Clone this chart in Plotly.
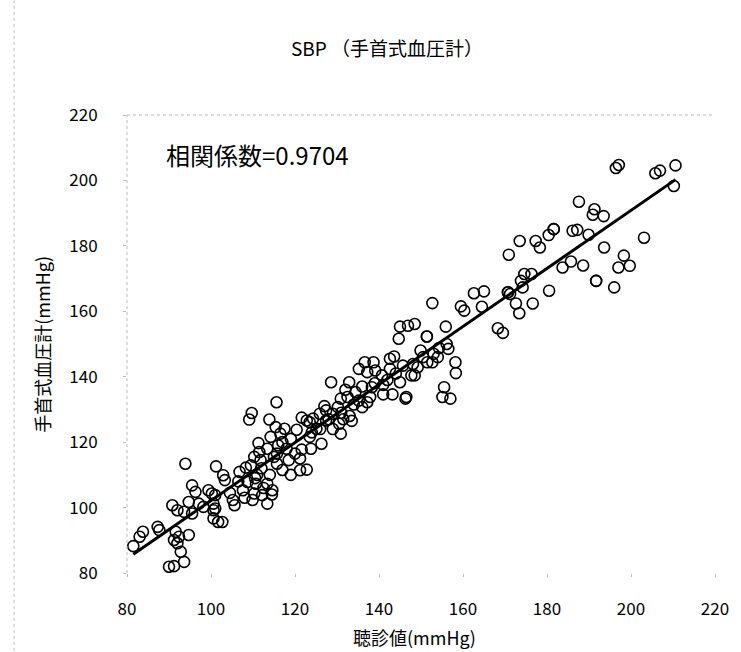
import numpy as np
import plotly.graph_objects as go

# Auscultation SBP (x) vs wrist monitor SBP (y), mmHg
ausc = [81.5, 83.0, 83.8, 87.3, 87.7, 90.0, 91.2, 90.8, 92.0, 93.6, 94.7, 95.5, 91.6, 92.4, 94.7, 91.2, 92.0, 92.8, 93.6,
        93.9, 95.5, 96.3, 97.1, 98.2, 99.4, 100.2, 100.6, 100.6, 101.7, 102.7, 101.2, 101.0, 100.6, 101.0, 102.9, 103.3,
        104.5, 105.2, 105.6,
        106.8, 107.6, 108.3, 108.7, 109.5, 109.9, 110.3, 110.3, 110.7, 111.3, 111.5, 111.8, 112.2, 113.4, 113.4, 113.4,
        114.6, 109.7, 109.1, 113.9, 115.6, 115.4, 117.5, 116.5, 120.4, 114.2, 115.7, 115.7, 118.5, 120.0, 121.6, 123.8,
        121.2, 121.2, 122.8, 121.6, 123.5, 124.3, 122.8, 125.1, 123.5, 126.3, 125.9, 127.4, 127.4, 129.0, 130.2, 130.5,
        130.9, 128.6, 132.9,
        111.0, 112.0, 114.0, 112.5, 116.0, 117.0, 118.0, 119.0, 124.0, 126.0, 127.0, 128.0, 129.0, 119.0, 114.5, 110.5,
        108.0, 106.5, 117.0, 115.0,
        130.9, 132.5, 134.4, 135.2, 137.2, 136.0, 137.9, 138.3, 141.0, 143.2, 146.3, 135.2, 136.6, 138.7, 137.2, 139.1,
        140.7, 142.6, 143.6, 142.6, 145.7, 148.1, 145.0, 147.7, 144.7, 145.0, 146.9, 148.5, 149.2, 148.5, 146.5, 149.9,
        133.0, 134.0, 139.0, 141.0, 142.0, 144.0, 132.0, 136.0, 131.0, 133.5, 131.5,
        151.4, 151.4, 152.7, 151.5, 152.7, 155.9, 156.1, 156.5, 154.3, 158.2, 158.3, 155.5, 155.1, 157.0, 159.5, 160.3,
        162.6, 165.0, 164.5, 168.3, 169.5, 150.5, 153.0, 154.0,
        170.7, 170.7, 170.9, 171.2, 172.6, 173.4, 173.5, 173.8, 174.2, 174.6, 176.3, 176.6, 177.3, 178.3, 180.4, 181.6,
        181.6, 180.5, 183.7, 185.7, 186.1, 187.2, 187.6, 188.6, 189.9, 191.3, 190.9, 191.7, 191.7, 193.5, 193.6, 196.0,
        196.4, 197.1, 197.0, 198.3, 199.7, 203.1, 205.8, 206.9, 210.6, 210.2]

wrist = [88.2, 91.1, 92.6, 94.1, 93.1, 81.9, 82.1, 100.7, 99.2, 98.7, 101.7, 98.2, 92.6, 91.1, 91.6, 90.1, 89.1, 86.5, 83.4,
         113.4, 106.8, 104.8, 101.2, 100.2, 105.3, 104.3, 99.2, 96.7, 95.6, 95.6, 112.6, 103.8, 101.2, 99.7, 109.9, 108.4,
         104.5, 102.3, 100.7,
         110.9, 105.3, 112.2, 107.8, 112.9, 102.3, 115.5, 104.3, 107.3, 119.7, 117.0, 114.5, 103.8, 118.0, 107.3, 101.2,
         105.3, 128.9, 126.9, 126.9, 132.2, 124.6, 124.1, 122.6, 123.8, 121.6, 116.5, 113.4, 114.5, 116.5, 117.7, 118.0,
         115.0, 111.4, 111.6, 127.5, 126.1, 127.2, 126.6, 124.1, 121.6, 119.5, 128.7, 129.7, 126.6, 128.7, 130.7, 125.6,
         122.6, 138.3, 138.3,
         110.0, 112.0, 110.0, 106.0, 119.0, 120.0, 118.0, 121.0, 123.0, 124.0, 131.0, 127.0, 124.0, 110.0, 104.0, 109.0,
         103.0, 108.0, 111.5, 115.5,
         133.3, 133.8, 135.3, 132.7, 132.2, 130.7, 133.8, 136.8, 134.6, 134.6, 133.3, 142.4, 144.4, 144.4, 141.4, 141.9,
         140.4, 145.5, 146.2, 142.4, 143.4, 143.9, 138.3, 140.4, 151.6, 155.3, 155.6, 156.1, 142.9, 140.4, 133.8, 148.0,
         128.0, 131.5, 138.0, 137.5, 139.0, 141.0, 136.0, 137.0, 129.0, 126.5, 127.0,
         152.3, 152.3, 144.4, 144.4, 162.5, 155.3, 150.0, 148.5, 148.8, 144.4, 141.1, 136.8, 133.8, 133.3, 161.5, 160.2,
         165.5, 166.1, 161.4, 154.8, 153.4, 146.0, 147.0, 146.0,
         165.8, 165.8, 177.3, 165.3, 162.4, 159.4, 181.5, 169.3, 167.3, 171.4, 171.4, 162.4, 181.5, 179.5, 183.3, 185.1,
         185.1, 166.3, 173.4, 175.2, 184.6, 184.9, 193.5, 174.0, 183.4, 191.2, 189.5, 169.3, 169.3, 189.1, 179.5, 167.3,
         203.8, 204.7, 173.4, 177.0, 173.9, 182.5, 202.2, 203.0, 204.6, 198.3]

x_ticks = [80, 100, 120, 140, 160, 180, 200, 220]
y_ticks = [80, 100, 120, 140, 160, 180, 200, 220]
title_text = "SBP （手首式血圧計）"
x_title = "聴診値(mmHg)"
y_title = "手首式血圧計(mmHg)"
corr_text = "相関係数=0.9704"

xa = np.array(ausc)
ya = np.array(wrist)
slope, intercept = np.polyfit(xa, ya, 1)
line_x = np.array([xa.min(), xa.max()])
line_y = slope * line_x + intercept

FONT = "Noto Sans CJK JP"

fig = go.Figure()
fig.add_trace(go.Scatter(
    x=ausc, y=wrist, mode="markers",
    marker=dict(symbol="circle-open", size=11, color="black", line=dict(width=1.6, color="black")),
    showlegend=False, hoverinfo="x+y"))
fig.add_trace(go.Scatter(
    x=line_x, y=line_y, mode="lines",
    line=dict(color="black", width=3), showlegend=False, hoverinfo="skip"))

fig.update_layout(
    width=741, height=652,
    margin=dict(l=127, r=15, t=115, b=79),
    paper_bgcolor="white", plot_bgcolor="white",
    font=dict(family=FONT, color="black"),
    xaxis=dict(range=[80, 220], tickvals=x_ticks, ticktext=[str(v) for v in x_ticks],
               showgrid=False, zeroline=False, showline=False,
               ticks="outside", ticklen=3, tickcolor="#bbbbbb",
               ticklabelstandoff=18, tickfont=dict(size=17, family=FONT, color="black")),
    yaxis=dict(range=[80, 220], tickvals=y_ticks, ticktext=[str(v) for v in y_ticks],
               showgrid=False, zeroline=False, showline=False,
               ticks="outside", ticklen=3, tickcolor="#bbbbbb",
               ticklabelstandoff=22, tickfont=dict(size=17, family=FONT, color="black")),
    annotations=[
        dict(text=title_text, xref="paper", yref="paper", x=0.442, y=1.148, showarrow=False,
             font=dict(size=19, family=FONT), xanchor="center", yanchor="middle"),
        dict(text=x_title, xref="paper", yref="paper", x=0.489, y=-0.14, showarrow=False,
             font=dict(size=18, family=FONT), xanchor="center", yanchor="middle"),
        dict(text=y_title, xref="paper", yref="paper", x=-0.145, y=0.5, showarrow=False,
             textangle=-90, font=dict(size=18, family=FONT), xanchor="center", yanchor="middle"),
        dict(text=corr_text, xref="paper", yref="paper", x=0.063, y=0.913, showarrow=False,
             font=dict(size=24, family=FONT), xanchor="left", yanchor="middle"),
    ],
    shapes=[
        dict(type="line", xref="paper", yref="paper", x0=0, x1=0, y0=0, y1=1,
             line=dict(color="#bbbbbb", width=1, dash="dot")),
        dict(type="line", xref="paper", yref="paper", x0=0, x1=1, y0=1, y1=1,
             line=dict(color="#bbbbbb", width=1, dash="dot")),
        dict(type="line", xref="paper", yref="paper", x0=-0.192, x1=-0.192, y0=-0.17, y1=1.25,
             line=dict(color="#bbbbbb", width=1, dash="dot")),
    ],
)

fig.write_html("out.html")
